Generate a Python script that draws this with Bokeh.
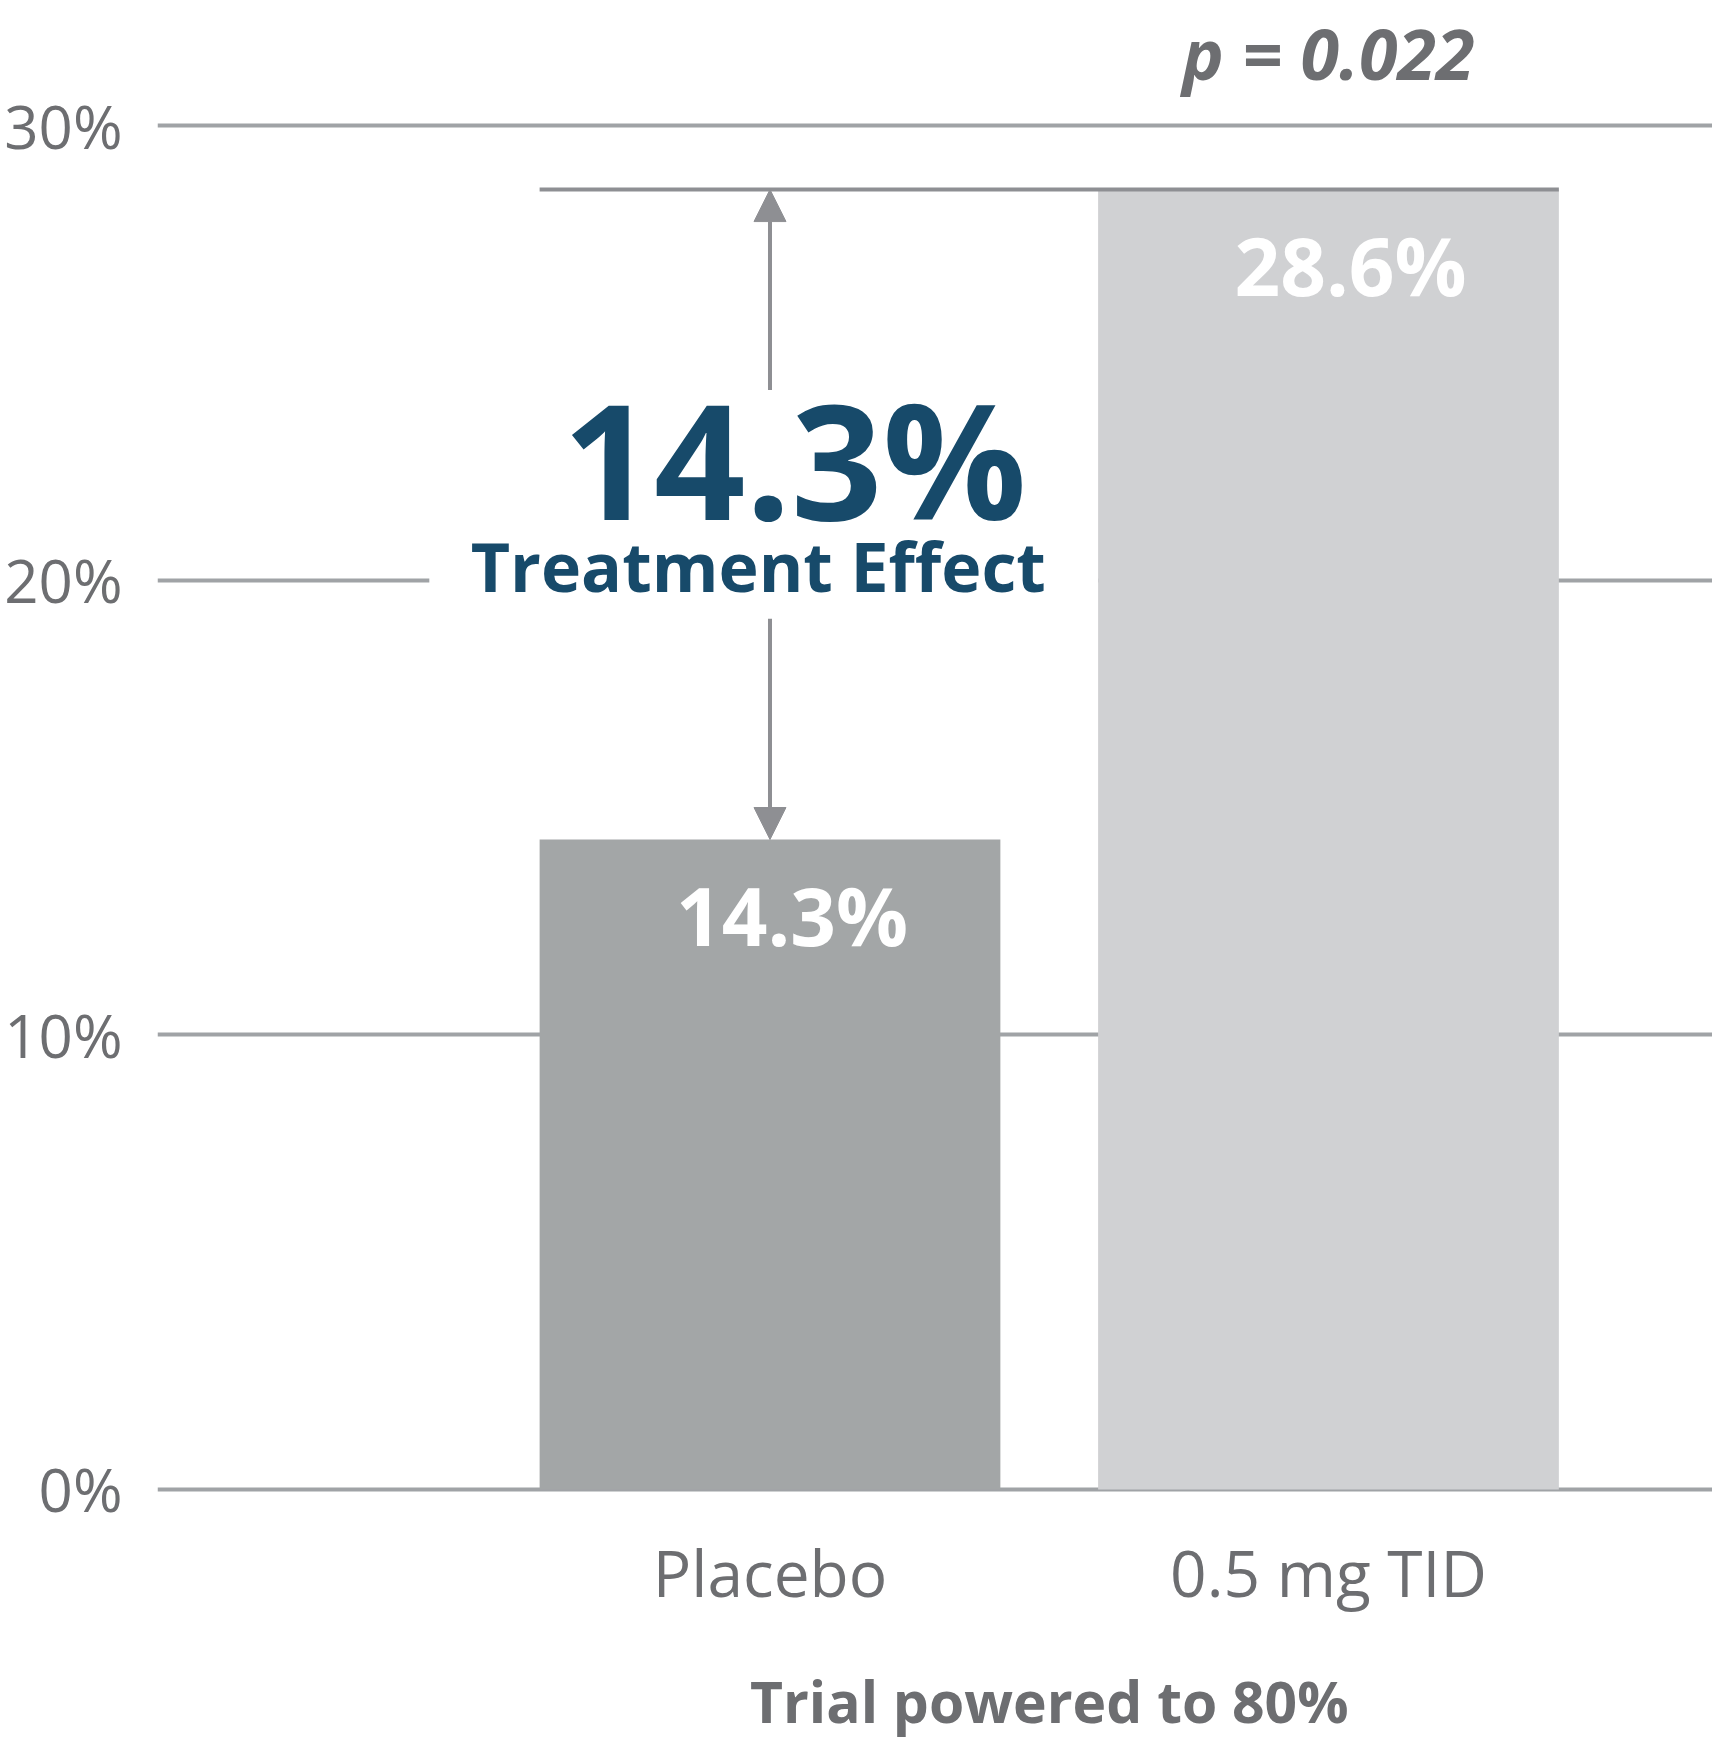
from bokeh.plotting import figure
from bokeh.models import Range1d, FixedTicker, Arrow, NormalHead, LinearAxis
from bokeh.embed import file_html
from bokeh.resources import INLINE
from bokeh.core.properties import value

# ---- data ----
categories = ["Placebo", "0.5 mg TID"]
rates = [14.3, 28.6]
rate_labels = ["14.3%", "28.6%"]
y_ticks = [0, 10, 20, 30]
y_tick_labels = ["0%", "10%", "20%", "30%"]
effect_caption = "Treatment Effect"
p_text = "p = 0.022"
x_title = "Trial powered to 80%"

# ---- styling ----
FONT = "Open Sans"
GRAY_TXT = "#6d6e71"
BLUE = "#174a6a"
GRID = "#a0a3a6"
LINE = "#8e8f93"
BAR_COLORS = ["#a3a6a7", "#d0d1d3"]

xs = [1, 2]
bar_w = 0.825
effect = rates[1] - rates[0]

p = figure(width=1712, height=1742, output_backend="svg", toolbar_location=None,
           x_range=Range1d(-0.0967, 2.6876), y_range=Range1d(-0.4185, 32.76),
           min_border_left=157, min_border_right=0, min_border_top=0,
           min_border_bottom=234)
p.outline_line_color = None
p.background_fill_color = "white"
p.border_fill_color = "white"

# axes
p.yaxis.ticker = FixedTicker(ticks=y_ticks)
p.yaxis.major_label_overrides = {t: l for t, l in zip(y_ticks, y_tick_labels)}
p.xaxis.ticker = FixedTicker(ticks=xs)
p.xaxis.major_label_overrides = {t: l for t, l in zip(xs, categories)}

cap_axis = LinearAxis(ticker=FixedTicker(ticks=[(xs[0] + xs[1]) / 2]),
                      major_label_overrides={(xs[0] + xs[1]) / 2: x_title})
p.add_layout(cap_axis, "below")

for ax in (p.xaxis[0], p.yaxis[0], cap_axis):
    ax.axis_line_color = None
    ax.major_tick_line_color = None
    ax.minor_tick_line_color = None
    ax.major_label_text_font = FONT
    ax.major_label_text_color = GRAY_TXT
p.yaxis.major_label_text_font_size = "60px"
p.yaxis.major_label_standoff = 29
p.xaxis[0].major_label_text_font_size = "64px"
p.xaxis[0].major_label_standoff = 14
cap_axis.major_label_text_font_size = "57px"
cap_axis.major_label_text_font_style = "bold"
cap_axis.major_label_standoff = 37

p.xgrid.grid_line_color = None
p.ygrid.ticker = FixedTicker(ticks=y_ticks)
p.ygrid.grid_line_color = GRID
p.ygrid.grid_line_width = 4

# white gap in the 20% gridline behind the annotation text
p.quad(left=[0.39], right=[xs[1] - bar_w / 2], bottom=[y_ticks[2] - 0.4],
       top=[y_ticks[2] + 0.4], fill_color="white", line_color=None)

# bars
p.vbar(x=xs, top=rates, width=bar_w, bottom=0, fill_color=BAR_COLORS, line_color=None)

# bracket line at top value
p.segment(x0=[xs[0] - bar_w / 2], y0=[rates[1]], x1=[xs[1] + bar_w / 2], y1=[rates[1]],
          line_color=LINE, line_width=4)

# bar value labels
p.text(x=xs, y=rates, text=rate_labels, text_font=value(FONT), text_font_style="bold",
       text_font_size="80px", text_color="white", text_align="center",
       text_baseline="alphabetic", x_offset=22, y_offset=75)

# arrows
gap_lo, gap_hi = 19.16, 24.19
for y0, y1 in ((gap_hi, rates[1]), (gap_lo, rates[0])):
    p.add_layout(Arrow(x_start=xs[0], y_start=y0, x_end=xs[0], y_end=y1,
                       line_color=LINE, line_width=4,
                       end=NormalHead(size=32, fill_color=LINE, fill_alpha=1.0,
                                      line_color=LINE, line_width=1)))

# treatment effect annotation
p.text(x=[1.044], y=[22.69], text=[f"{effect:.1f}%"], text_font=value(FONT),
       text_font_style="bold", text_font_size="160px", text_color=BLUE,
       text_align="center", text_baseline="alphabetic")
p.text(x=[0.979], y=[20.33], text=[effect_caption], text_font=value(FONT),
       text_font_style="bold", text_font_size="68px", text_color=BLUE,
       text_align="center", text_baseline="alphabetic")

# p-value
p.text(x=[xs[1]], y=[rates[1] + 3.0], text=[p_text], text_font=value(FONT),
       text_font_style="bold italic", text_font_size="70px", text_color=GRAY_TXT,
       text_align="center", text_baseline="alphabetic")

open("out.html", "w").write(file_html(p, INLINE))
